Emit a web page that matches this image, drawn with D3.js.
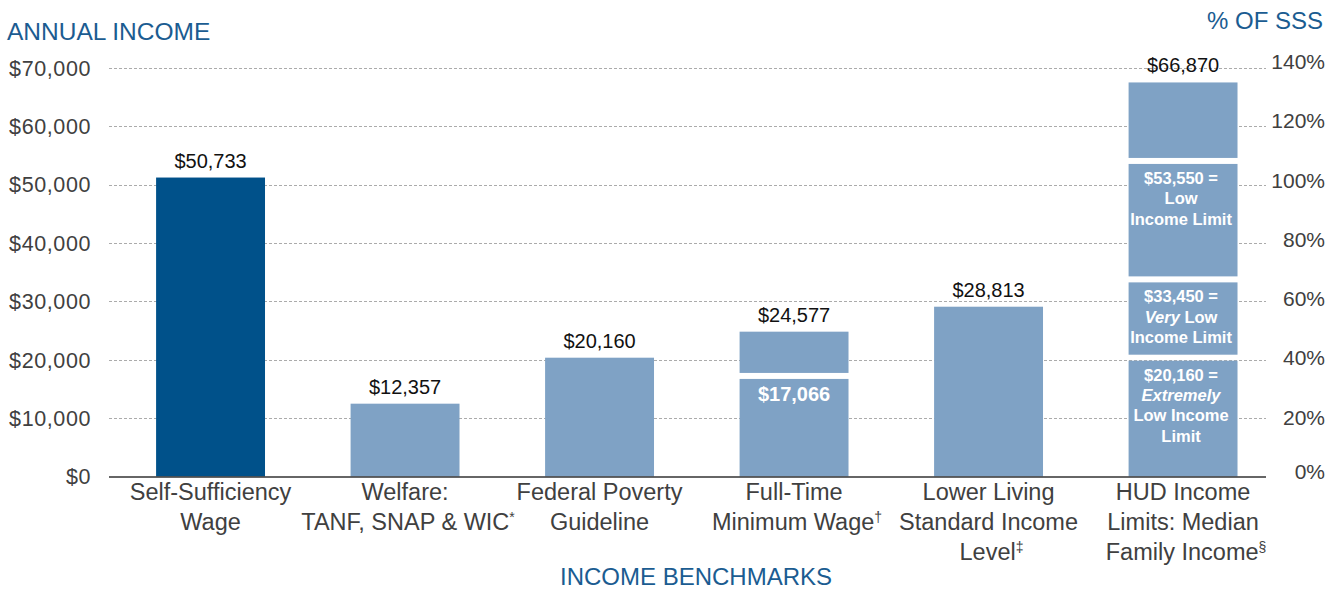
<!DOCTYPE html>
<html>
<head>
<meta charset="utf-8">
<script src="https://cdn.jsdelivr.net/npm/d3@7"></script>
<style>
  body { margin: 0; background: #fff; }
  svg { display: block; font-family: "Liberation Sans", Arial, sans-serif; }
</style>
</head>
<body>
<svg id="chart" width="1328" height="591"></svg>
<script>
// data
var categories = [
  ['Self-Sufficiency', 'Wage'],
  ['Welfare:', 'TANF, SNAP & WIC^*'],
  ['Federal Poverty', 'Guideline'],
  ['Full-Time', 'Minimum Wage^†'],
  ['Lower Living', 'Standard Income', 'Level^‡'],
  ['HUD Income', 'Limits: Median', 'Family Income^§']
];
var values = [50733, 12357, 20160, 24577, 28813, 66870];
var valueLabels = ['$50,733', '$12,357', '$20,160', '$24,577', '$28,813', '$66,870'];
var minWageSplit = 17066;
var minWageLabel = '$17,066';
var hudLimits = [20160, 33450, 53550];
var hudLabels = [
  ['$20,160 =', '_Extremely_', 'Low Income', 'Limit'],
  ['$33,450 =', '_Very_ Low', 'Income Limit'],
  ['$53,550 =', 'Low', 'Income Limit']
];
var incomeTicks = [0, 10000, 20000, 30000, 40000, 50000, 60000, 70000];
var pctTicks = [0, 0.2, 0.4, 0.6, 0.8, 1.0, 1.2, 1.4];

var darkBlue = '#00518a';
var lightBlue = '#7fa2c5';
var titleBlue = '#1b5c91';
var textGrey = '#404040';

var svg = d3.select('#chart');

var x = d3.scaleBand()
  .domain(d3.range(categories.length))
  .range([113.3, 1280.3])
  .paddingInner(0.44)
  .paddingOuter(0.22);

// left axis (gridlines), bars and right % axis each sit on slightly different scales in the original
var yGrid = d3.scaleLinear().domain([0, 70000]).range([476.5, 68]);
var yBar = d3.scaleLinear().domain([0, 70000]).range([476.5, 64]);
var yPct = d3.scaleLinear().domain([0, 1.4]).range([476.5, 61.4]);

var gridLeft = 109, gridRight = 1266;

// gridlines
svg.append('g')
  .selectAll('line')
  .data(incomeTicks.filter(d => d > 0))
  .enter()
  .append('line')
  .attr('x1', gridLeft)
  .attr('x2', gridRight)
  .attr('y1', d => Math.round(yGrid(d)) + 0.5)
  .attr('y2', d => Math.round(yGrid(d)) + 0.5)
  .attr('stroke', '#ababab')
  .attr('stroke-width', 1)
  .attr('stroke-dasharray', '3,2');

// left tick labels
svg.append('g')
  .selectAll('text')
  .data(incomeTicks)
  .enter()
  .append('text')
  .attr('x', 91)
  .attr('y', d => yGrid(d))
  .attr('dy', '0.36em')
  .attr('text-anchor', 'end')
  .attr('font-size', 21.5)
  .attr('letter-spacing', 0.6)
  .attr('fill', textGrey)
  .text(d => '$' + d3.format(',')(d));

// right % tick labels
svg.append('g')
  .selectAll('text')
  .data(pctTicks)
  .enter()
  .append('text')
  .attr('x', 1325)
  .attr('y', d => yPct(d) - (d === 0 ? 5 : 0))
  .attr('dy', '0.36em')
  .attr('text-anchor', 'end')
  .attr('font-size', 21)
  .attr('fill', textGrey)
  .text(d => Math.round(d * 100) + '%');

// bars as segments
var segments = [];
values.forEach(function (v, i) {
  var cuts = [];
  if (i === 3) cuts = [minWageSplit];
  if (i === 5) cuts = hudLimits;
  var bounds = [0].concat(cuts).concat([v]);
  for (var k = 0; k < bounds.length - 1; k++) {
    segments.push({ i: i, lo: bounds[k], hi: bounds[k + 1], k: k, last: k === bounds.length - 2 });
  }
});

var gap = 3;
svg.append('g')
  .selectAll('rect')
  .data(segments)
  .enter()
  .append('rect')
  .attr('x', d => x(d.i))
  .attr('width', x.bandwidth())
  .attr('y', d => yBar(d.hi) + (d.last ? 0 : gap))
  .attr('height', d => (yBar(d.lo) - (d.lo === 0 ? 0 : gap)) - (yBar(d.hi) + (d.last ? 0 : gap)))
  .attr('fill', d => d.i === 0 ? darkBlue : lightBlue);

// baseline
svg.append('line')
  .attr('x1', gridLeft)
  .attr('x2', gridRight)
  .attr('y1', yBar(0) + 0.5)
  .attr('y2', yBar(0) + 0.5)
  .attr('stroke', '#333')
  .attr('stroke-width', 1.5);

// value labels
svg.append('g')
  .selectAll('text')
  .data(values)
  .enter()
  .append('text')
  .attr('x', (d, i) => x(i) + x.bandwidth() / 2)
  .attr('y', d => yBar(d) - 10)
  .attr('text-anchor', 'middle')
  .attr('font-size', 20)
  .attr('fill', '#111')
  .text((d, i) => valueLabels[i]);

// label inside minimum wage bar
svg.append('text')
  .attr('x', x(3) + x.bandwidth() / 2)
  .attr('y', yBar(minWageSplit) + gap + 22)
  .attr('text-anchor', 'middle')
  .attr('font-size', 20)
  .attr('font-weight', 'bold')
  .attr('fill', '#fff')
  .text(minWageLabel);

// labels inside HUD bar
hudLabels.forEach(function (lines, j) {
  var segTop = yBar(hudLimits[j]) + gap;
  var cx = x(5) + x.bandwidth() / 2 - 2;
  var t = svg.append('text')
    .attr('x', cx)
    .attr('y', segTop + 20)
    .attr('text-anchor', 'middle')
    .attr('font-size', 16.5)
    .attr('font-weight', 'bold')
    .attr('fill', '#fff');
  lines.forEach(function (line, n) {
    var parts = line.split('_');
    var first = true;
    parts.forEach(function (p, m) {
      if (p === '') return;
      var ts = t.append('tspan').text(p);
      if (m % 2 === 1) ts.attr('font-style', 'italic');
      if (first) {
        ts.attr('x', cx).attr('dy', n === 0 ? 0 : 20.3);
        first = false;
      }
    });
  });
});

// category labels
categories.forEach(function (lines, i) {
  var t = svg.append('text')
    .attr('x', x(i) + x.bandwidth() / 2)
    .attr('y', 500)
    .attr('text-anchor', 'middle')
    .attr('font-size', 23.5)
    .attr('fill', textGrey);
  lines.forEach(function (line, n) {
    var parts = line.split('^');
    t.append('tspan')
      .attr('x', x(i) + x.bandwidth() / 2 + (parts[1] ? 3 : 0))
      .attr('dy', n === 0 ? 0 : 30)
      .text(parts[0]);
    if (parts[1]) {
      t.append('tspan')
        .attr('font-size', 14)
        .attr('dy', -8)
        .text(parts[1]);
      t.append('tspan').attr('dy', 8).text('');
    }
  });
});

// titles
svg.append('text')
  .attr('x', 7)
  .attr('y', 40)
  .attr('font-size', 24.5)
  .attr('fill', titleBlue)
  .text('ANNUAL INCOME');

svg.append('text')
  .attr('x', 1323)
  .attr('y', 29)
  .attr('text-anchor', 'end')
  .attr('font-size', 24)
  .attr('fill', titleBlue)
  .text('% OF SSS');

svg.append('text')
  .attr('x', 696)
  .attr('y', 585)
  .attr('text-anchor', 'middle')
  .attr('font-size', 24)
  .attr('fill', titleBlue)
  .text('INCOME BENCHMARKS');
</script>
</body>
</html>
